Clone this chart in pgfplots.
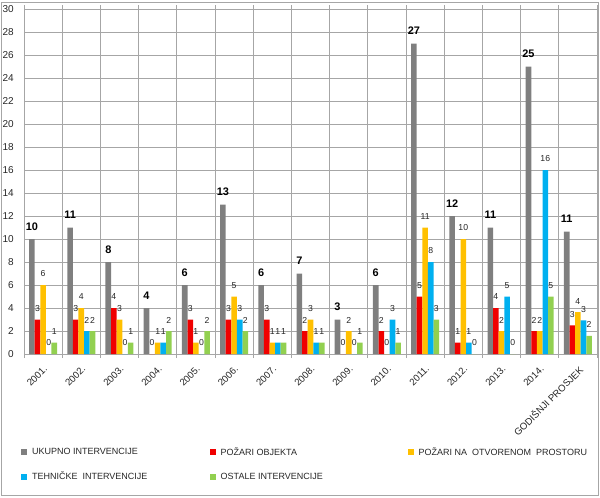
\documentclass[border=0pt]{standalone}
\usepackage{fontspec}
\setmainfont{Liberation Sans}
\usepackage{pgfplots}
\pgfplotsset{compat=1.18}
\definecolor{cgray}{HTML}{7F7F7F}
\definecolor{cred}{HTML}{F00000}
\definecolor{cyel}{HTML}{FFC000}
\definecolor{cblue}{HTML}{00B0F0}
\definecolor{cgreen}{HTML}{92D050}
\definecolor{cgrid}{HTML}{A6A6A6}
\begin{document}
\begin{tikzpicture}
\begin{axis}[
  scale only axis, width=429.75pt, height=258.75pt,
  ybar=0pt, bar width=4.2pt,
  xmin=-0.5, xmax=14.5, ymin=0, ymax=30,
  xtick={0,...,14},
  xticklabels={2001.,2002.,2003.,2004.,2005.,2006.,2007.,2008.,2009.,2010.,2011.,2012.,2013.,2014.,GODIŠNJI PROSJEK},
  minor xtick={-0.5,0.5,...,14.5},
  ytick={0,2,...,30},
  ymajorgrids, xminorgrids,
  major tick length=0pt, minor tick length=3pt, tick align=outside,
  grid style={draw=cgrid, line width=0.7pt},
  minor grid style={draw=cgrid, line width=0.7pt},
  minor tick style={draw=cgrid, line width=0.7pt},
  axis line style={draw=cgrid, line width=0.7pt},
  /pgf/number format/assume math mode=true,
  tick label style={text=black!85},
  yticklabel style={font=\fontsize{7.5}{9}\selectfont, inner sep=0pt},
  yticklabel shift=7.5pt,
  xticklabel style={font=\fontsize{7.2}{8}\selectfont, rotate=45, anchor=north east, inner sep=0pt},
  xticklabel shift=8pt,
  nodes near coords, point meta=explicit symbolic,
  every node near coord/.append style={font=\fontsize{6.5}{7}\selectfont, anchor=center, inner sep=0pt, yshift=8.25pt, text=black!85},
  legend columns=3,
  legend image code/.code={\fill[#1,draw=none] (0pt,-2.25pt) rectangle (4.5pt,2.25pt);},
  legend style={draw=none, fill=none, at={(-0.005,-0.27)}, anchor=north west, inner sep=0pt,
    font=\fontsize{6.75}{8}\selectfont, row sep=11pt, /tikz/column sep=0pt,
    nodes={inner xsep=3.5pt, inner ysep=0pt, text=black!85}},
]
\addplot[fill=cgray, draw=none, every node near coord/.append style={font=\bfseries\fontsize{8.2}{9}\selectfont, yshift=1.1pt, text=black}] coordinates {
 (0,10)[10] (1,11)[11] (2,8)[8] (3,4)[4] (4,6)[6] (5,13)[13] (6,6)[6] (7,7)[7]
 (8,3)[3] (9,6)[6] (10,27)[27] (11,12)[12] (12,11)[11] (13,25)[25] (14,10.64)[11]};
\addlegendentry{\makebox[130pt][l]{UKUPNO INTERVENCIJE}}
\addplot[fill=cred, draw=none] coordinates {
 (0,3)[3] (1,3)[3] (2,4)[4] (3,0)[0] (4,3)[3] (5,3)[3] (6,3)[3] (7,2)[2]
 (8,0)[0] (9,2)[2] (10,5)[5] (11,1)[1] (12,4)[4] (13,2)[2] (14,2.5)[3]};
\addlegendentry{\makebox[137pt][l]{POŽARI OBJEKTA}}
\addplot[fill=cyel, draw=none] coordinates {
 (0,6)[6] (1,4)[4] (2,3)[3] (3,1)[1] (4,1)[1] (5,5)[5] (6,1)[1] (7,3)[3]
 (8,2)[2] (9,0)[0] (10,11)[11] (11,10)[10] (12,2)[2] (13,2)[2] (14,3.64)[4]};
\addlegendentry{\makebox[131pt][l]{POŽARI NA \ OTVORENOM \ PROSTORU}}
\addplot[fill=cblue, draw=none] coordinates {
 (0,0)[0] (1,2)[2] (2,0)[0] (3,1)[1] (4,0)[0] (5,3)[3] (6,1)[1] (7,1)[1]
 (8,0)[0] (9,3)[3] (10,8)[8] (11,1)[1] (12,5)[5] (13,16)[16] (14,2.93)[3]};
\addlegendentry{\makebox[130pt][l]{TEHNIČKE \ INTERVENCIJE}}
\addplot[fill=cgreen, draw=none] coordinates {
 (0,1)[1] (1,2)[2] (2,1)[1] (3,2)[2] (4,2)[2] (5,2)[2] (6,1)[1] (7,1)[1]
 (8,1)[1] (9,1)[1] (10,3)[3] (11,0)[0] (12,0)[0] (13,5)[5] (14,1.57)[2]};
\addlegendentry{\makebox[137pt][l]{OSTALE INTERVENCIJE}}
\end{axis}
\draw[cgrid, line width=0.7pt] (-17.25pt,-105.75pt) rectangle (430.5pt,264pt);
\pgfresetboundingbox
\path[use as bounding box] (-18pt,-107.25pt) rectangle (432pt,265.5pt);
\end{tikzpicture}
\end{document}
